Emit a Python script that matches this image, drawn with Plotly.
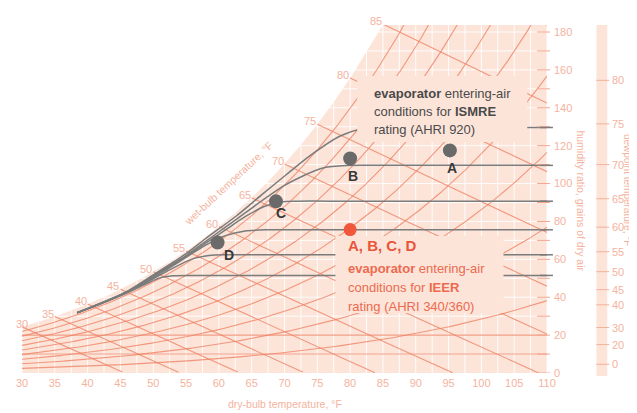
import numpy as np
import plotly.graph_objects as go

# ---------------- values ----------------
db_ticks = list(range(30, 111, 5))            # dry-bulb tick labels, F
w_ticks = list(range(0, 181, 20))             # humidity-ratio tick labels, grains
w_minor = list(range(0, 181, 10))
wb_labels = [30, 35, 40, 45, 50, 55, 60, 65, 70, 75, 80, 85]   # wet-bulb labels
wb_lines = [30, 35, 40, 45, 50, 55, 60, 65, 70, 75, 80, 85, 90, 95]
rh_levels = [10, 20, 30, 40, 50, 60, 70, 80, 90]               # % RH curves
flat_orange_w = [10, 20]
dew_labels = [0, 20, 30, 40, 45, 50, 55, 60, 65, 70, 75, 80]
dew_grains = [4.6, 15.0, 24.0, 36.0, 44.0, 53.5, 64.0, 77.0, 92.0, 110.0, 131.5, 154.5]

ismre_names = ["A", "B", "C", "D"]
ismre_db = [95.2, 80.0, 68.7, 59.8]
ismre_w = [117.5, 113.2, 90.6, 68.9]
ieer_db = [80.0]
ieer_w = [75.7]

gray_levels = [129.6, 109.6, 90.7, 75.6, 62.4, 51.5]
gray_db = [
    [38.4, 42, 45.7, 50, 55, 58, 62.7, 66.5, 70.2, 74, 78.4, 82, 86, 95, 110],
    [38.4, 42, 45.7, 50, 55, 58, 61, 64, 67, 70, 72.8, 76, 79.5, 83, 95, 110],
    [38.4, 42, 45.7, 50, 55, 58, 61, 64, 67, 69.5, 72, 80, 110],
    [38.4, 42, 45.7, 49, 52, 55, 58, 61, 64, 67.5, 75, 110],
    [38.4, 42, 45.7, 49, 52, 55.8, 58.5, 61.5, 70, 110],
    [38.4, 42, 45.7, 49, 51, 53, 56, 65, 110],
]
gray_w = [
    [31.8, 36.9, 42.5, 51.8, 63.0, 71.0, 83.0, 94.0, 104.5, 115.0, 125.0, 129.0, 129.6, 129.6, 129.6],
    [31.8, 36.8, 42.4, 51.5, 62.0, 69.5, 77.0, 84.5, 92.0, 99.0, 104.0, 108.3, 109.5, 109.6, 109.6, 109.6],
    [31.8, 36.7, 42.3, 51.0, 61.5, 68.5, 75.5, 82.5, 88.0, 90.3, 90.7, 90.7, 90.7],
    [31.8, 36.7, 42.2, 48.2, 54.5, 61.0, 67.5, 72.5, 75.0, 75.6, 75.6, 75.6],
    [31.8, 36.6, 42.0, 47.8, 53.5, 60.0, 62.0, 62.4, 62.4, 62.4],
    [31.8, 36.5, 41.8, 47.2, 50.2, 51.3, 51.5, 51.5, 51.5],
]

# ---------------- styling / layout constants ----------------
W_PX, H_PX = 637, 413
OFF = 8                      # default page (body) margin of the html page
PLOT_L, PLOT_T = 16, 25      # plot-area corner as seen on screen
PW, PH = 531, 348
ML, MT = PLOT_L - OFF, PLOT_T - OFF
MR = W_PX - ML - PW
MB = H_PX - MT - PH
YMAX = 183.7
PINK = "#fce4d9"
ORANGE = "rgba(238,128,98,0.78)"
SALMON = "#f5b39e"
GRAY = "#7b7b7b"
FONT = "Liberation Sans, Arial, sans-serif"


def fx(px):
    return (px - PLOT_L) / PW


def fy(py):
    return (PLOT_T + PH - py) / PH


# ---------------- psychrometric grid (chart scale) ----------------
P_ATM = 14.696


def p_ws(t_f):
    T = np.asarray(t_f, dtype=float) + 459.67
    return np.exp(-1.0440397e4 / T - 1.1294650e1 - 2.7022355e-2 * T
                  + 1.2890360e-5 * T ** 2 - 2.4780681e-9 * T ** 3 + 6.5459673 * np.log(T))


def w_grains(t_f, rh=1.0):
    pw = rh * p_ws(t_f)
    return 7000 * 0.622 * pw / (P_ATM - pw)


def wb_w(twb, t):
    ws = w_grains(twb) / 7000
    return 7000 * ((1093 - 0.556 * twb) * ws - 0.240 * (t - twb)) / (1093 + 0.444 * t - twb)


t_fine = np.linspace(30, 110, 801)
w_sat = w_grains(t_fine)

fig = go.Figure()

# pink chart body
px_ = [30] + list(t_fine) + [110, 30]
py_ = [0] + list(np.minimum(w_sat, YMAX)) + [0, 0]
fig.add_trace(go.Scatter(x=px_, y=py_, fill="toself", fillcolor=PINK, mode="lines",
                         line=dict(width=0, color=PINK), hoverinfo="skip", showlegend=False))

# white grid
gx, gy = [], []
for t in np.arange(30, 110.01, 2.5):
    gx += [t, t, None]
    gy += [0, float(min(w_grains(t), YMAX)), None]
for w in range(10, 184, 10):
    td = float(np.interp(w, w_sat, t_fine))
    gx += [td, 110, None]
    gy += [w, w, None]
fig.add_trace(go.Scatter(x=gx, y=gy, mode="lines", line=dict(color="rgba(255,255,255,0.9)", width=1),
                         hoverinfo="skip", showlegend=False))

# orange lines: wet bulb, RH, flat
ox, oy = [], []
for twb in wb_lines:
    t = np.linspace(twb, 110, 200)
    w = wb_w(twb, t)
    keep = w >= 0
    ox += list(t[keep]) + [None]
    oy += list(w[keep]) + [None]
for rh in rh_levels:
    ox += list(t_fine) + [None]
    oy += list(w_grains(t_fine, rh / 100)) + [None]
for w in flat_orange_w:
    td = float(np.interp(w, w_sat, t_fine))
    ox += [td, 110, None]
    oy += [w, w, None]
fig.add_trace(go.Scatter(x=ox, y=oy, mode="lines", line=dict(color=ORANGE, width=1.1),
                         hoverinfo="skip", showlegend=False))

# gray curves
for xs, ys in zip(gray_db, gray_w):
    fig.add_trace(go.Scatter(x=xs, y=ys, mode="lines",
                             line=dict(color=GRAY, width=1.5, shape="spline", smoothing=0.8),
                             hoverinfo="skip", showlegend=False))

# markers
fig.add_trace(go.Scatter(x=ismre_db, y=ismre_w, mode="markers",
                         marker=dict(size=14, color="#6a6a6a"), showlegend=False))
fig.add_trace(go.Scatter(x=ieer_db, y=ieer_w, mode="markers",
                         marker=dict(size=13, color="#f0573b"), showlegend=False))

shapes = []
# text boxes hiding lines
for (x0, x1, y0, y1) in [(355, 527, 76, 142), (333, 503, 236, 313)]:
    shapes.append(dict(type="rect", xref="paper", yref="paper", x0=fx(x0), x1=fx(x1),
                       y0=fy(y1), y1=fy(y0), fillcolor=PINK, line=dict(width=0), layer="above"))
# humidity ratio ticks
for w in w_minor:
    shapes.append(dict(type="line", xref="paper", yref="y", x0=fx(537), x1=fx(550), y0=w, y1=w,
                       line=dict(color="#f3a48a", width=1), layer="above"))
for L in gray_levels:
    shapes.append(dict(type="line", xref="paper", yref="y", x0=fx(540), x1=fx(553), y0=L, y1=L,
                       line=dict(color=GRAY, width=1.5), layer="above"))
# dewpoint scale bar
shapes.append(dict(type="rect", xref="paper", yref="paper", x0=fx(597), x1=fx(608),
                   y0=fy(376), y1=fy(25), fillcolor=PINK, line=dict(width=0), layer="below"))
for w in dew_grains:
    shapes.append(dict(type="line", xref="paper", yref="y", x0=fx(597), x1=fx(610), y0=w, y1=w,
                       line=dict(color="#f3b19b", width=1)))

ann = []


def text(px, py, s, size, color, xanchor="left", angle=0):
    ann.append(dict(xref="paper", yref="paper", x=fx(px), y=fy(py), text=s, showarrow=False,
                    xanchor=xanchor, yanchor="middle", textangle=angle,
                    font=dict(size=size, color=color, family=FONT)))


# ISMRE text
text(370, 93, "<b>evaporator</b> entering-air", 13, "#4a4a4a")
text(370, 111.5, "conditions for <b>ISMRE</b>", 13, "#4a4a4a")
text(370, 129.5, "rating (AHRI 920)", 13, "#4a4a4a")
# IEER text
text(344, 245, "<b>A, B, C, D</b>", 15, "#e8553a")
text(344, 268, "<b>evaporator</b> entering-air", 13, "#ec6a4e")
text(344, 287, "conditions for <b>IEER</b>", 13, "#ec6a4e")
text(344, 306, "rating (AHRI 340/360)", 13, "#ec6a4e")

# point letters
letter_off = {"A": (2, -18), "B": (3, -17), "C": (5, -12), "D": (11, -13)}
for n, x, y in zip(ismre_names, ismre_db, ismre_w):
    dx, dy = letter_off[n]
    ann.append(dict(x=x, y=y, xref="x", yref="y", text="<b>%s</b>" % n, showarrow=False,
                    xshift=dx, yshift=dy, font=dict(size=14, color="#383838", family=FONT)))

# wet bulb labels along saturation (paper y so labels above the top edge stay visible)
for twb in wb_labels:
    ann.append(dict(x=twb, y=float(w_grains(twb)) / YMAX, xref="x", yref="paper", text=str(twb),
                    showarrow=False, xanchor="center", yanchor="middle",
                    xshift=(0 if twb == 30 else -7), yshift=3,
                    font=dict(size=11, color=SALMON, family=FONT)))

# dewpoint labels
for d, w in zip(dew_labels, dew_grains):
    ann.append(dict(x=fx(611), y=w, xref="paper", yref="y", text=str(d), showarrow=False,
                    xanchor="left", yanchor="middle", font=dict(size=11, color=SALMON, family=FONT)))

# axis titles
text(282, 404, "dry-bulb temperature, °F", 10.5, SALMON, xanchor="center")
text(581, 201, "humidity ratio, grains of dry air", 10.5, SALMON, xanchor="center", angle=90)
text(629, 190, "dewpoint temperature, °F", 10, SALMON, xanchor="center", angle=90)
text(225, 183, "wet-bulb temperature, °F", 10.5, SALMON, xanchor="center", angle=-43)

fig.update_layout(
    width=W_PX, height=H_PX, margin=dict(l=ML, r=MR, t=MT, b=MB),
    paper_bgcolor="white", plot_bgcolor="white", showlegend=False,
    xaxis=dict(range=[30, 110], tickvals=db_ticks, ticks="", showgrid=False, zeroline=False,
               showline=False, ticklabelstandoff=2,
               tickfont=dict(size=11, color=SALMON, family=FONT)),
    yaxis=dict(range=[0, YMAX], side="right", tickvals=w_ticks, ticks="", showgrid=False,
               zeroline=False, showline=False, ticklabelstandoff=6,
               tickfont=dict(size=11, color=SALMON, family=FONT)),
    shapes=shapes, annotations=ann,
)

fig.write_html("out.html")
